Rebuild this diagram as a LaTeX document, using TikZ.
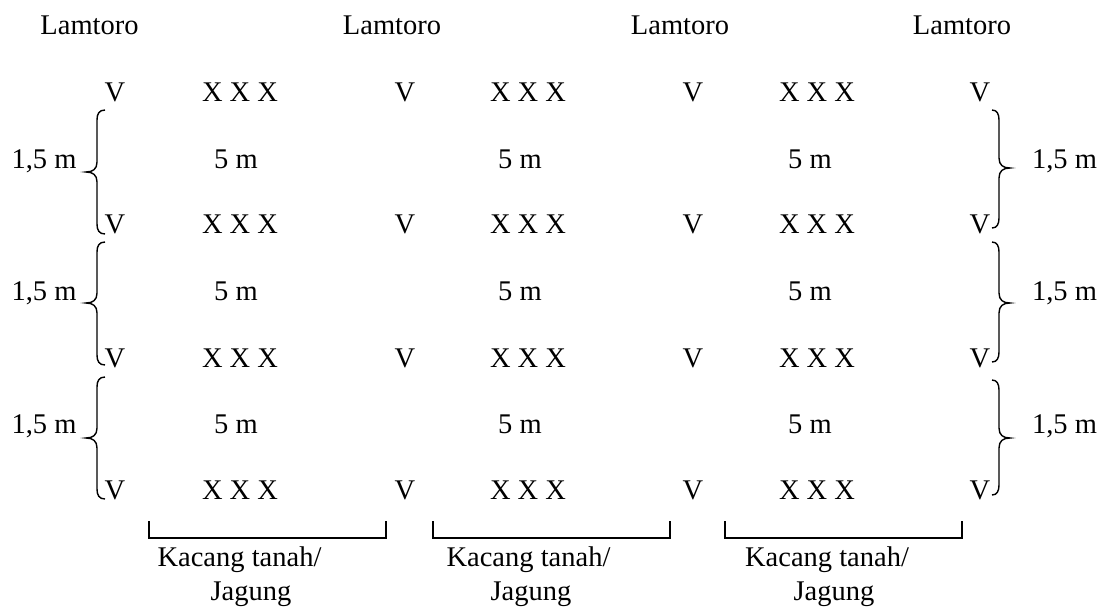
\documentclass[tikz,border=0pt]{standalone}
\usepackage{fontspec}
\setmainfont{Liberation Serif}
\newcommand\myLeftBrace[3]{% top, tip, bottom
  \draw[brc] (105,#1) .. controls (99,#1) and (97,{#1+4}) .. (97,{#1+10})
    -- (97,{#2-10}) .. controls (97,{#2-3}) and (93,#2) .. (86,#2)
    .. controls (93,#2) and (97,{#2+3}) .. (97,{#2+10})
    -- (97,{#3-10}) .. controls (97,{#3-4}) and (99,#3) .. (105,#3);}
\newcommand\myRightBrace[3]{% top, tip, bottom
  \draw[brc] (992,#1) .. controls (997,#1) and (999,{#1+4}) .. (999,{#1+10})
    -- (999,{#2-10}) .. controls (999,{#2-3}) and (1003,#2) .. (1010,#2)
    .. controls (1003,#2) and (999,{#2+3}) .. (999,{#2+10})
    -- (999,{#3-10}) .. controls (999,{#3-4}) and (997,#3) .. (992,#3);}
\begin{document}
\begin{tikzpicture}[x=1pt,y=-1pt,
  txt/.style={anchor=base,inner sep=0pt,font=\fontsize{28.5}{34}\selectfont},
  brc/.style={line width=1.4pt},
  brk/.style={line width=1.6pt}]
\useasboundingbox (0,0) rectangle (1102,606);
% Lamtoro labels
\foreach \x [count=\c] in {89.5,392,680,962}
  \node[txt] (L\c) at (\x,34) {Lamtoro};
% rows of V and X X X
\foreach \y [count=\r] in {101,233,367,499} {
  \foreach \x [count=\c] in {115,405,693,980}
    \node[txt] (v\r\c) at (\x,\y) {V};
  \foreach \x [count=\c] in {240,528,817}
    \node[txt] (x\r\c) at (\x,\y) {X X X};
}
% 5 m labels
\foreach \y [count=\r] in {168,300,433} {
  \foreach \x [count=\c] in {236,520,810}
    \node[txt] (m\r\c) at (\x,\y) {5 m};
  \node[txt] (ll\r) at (44,\y) {1,5 m};
  \node[txt] (rl\r) at (1064.5,\y) {1,5 m};
}
% braces
\myLeftBrace{110}{172}{234}
\myLeftBrace{242}{303}{365}
\myLeftBrace{377}{438}{499}
\myRightBrace{110}{168}{228}
\myRightBrace{242}{303}{362}
\myRightBrace{380}{438}{495}
% brackets and crop labels
\foreach \a/\b/\k/\j [count=\c] in {149/386/239.5/251,433/670/528.5/531,725/962/827/834} {
  \coordinate (bs\c) at (\a,521);
  \coordinate (be\c) at (\b,521);
  \draw[brk] (bs\c) -- ++(0,17) -| (be\c);
  \node[txt] (k\c) at (\k,566) {Kacang tanah/};
  \node[txt] (j\c) at (\j,600) {Jagung};
}
\end{tikzpicture}
\end{document}
